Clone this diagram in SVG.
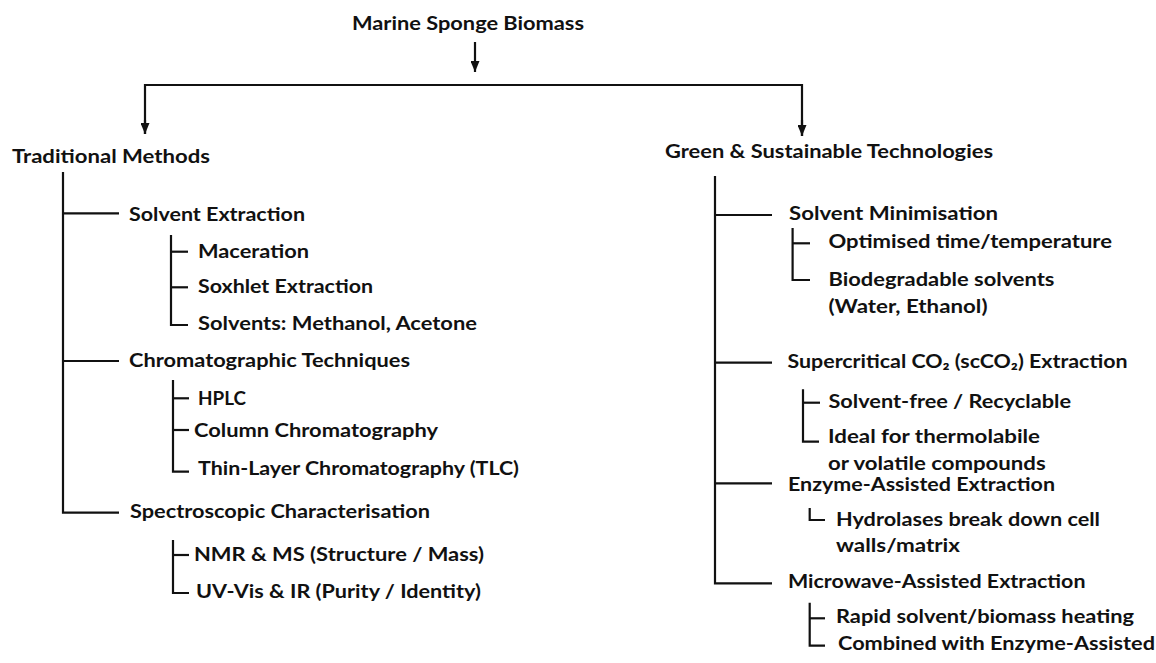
<svg xmlns="http://www.w3.org/2000/svg" width="1156" height="663" viewBox="0 0 1156 663">
<style>
  text { font-family: Lato, "Noto Sans", "Liberation Sans", sans-serif; font-weight: 700; font-size: 18.5px; fill: #111; }
  .ln { fill: none; stroke: #111; stroke-width: 2.2; stroke-linejoin: miter; }
</style>
<defs>
  <marker id="ah" markerUnits="userSpaceOnUse" markerWidth="11" markerHeight="9" refX="11" refY="4.5" orient="auto">
    <path d="M0,0 L11,4.5 L0,9 Z" fill="#111"/>
  </marker>
</defs>
<rect width="1156" height="663" fill="#fff"/>

<g id="connectors">
  <line class="ln" x1="475" y1="42" x2="475" y2="72" marker-end="url(#ah)"/>
  <polyline class="ln" points="145,134 145,85 802,85 802,136"/>
  <line class="ln" x1="145" y1="120" x2="145" y2="134" marker-end="url(#ah)"/>
  <line class="ln" x1="802" y1="120" x2="802" y2="136" marker-end="url(#ah)"/>

  <!-- left tree -->
  <polyline class="ln" points="63,172 63,512.7 119,512.7"/>
  <line class="ln" x1="63" y1="213.3" x2="119" y2="213.3"/>
  <line class="ln" x1="63" y1="361" x2="119" y2="361"/>
  <polyline class="ln" points="171,235 171,325 188,325"/>
  <line class="ln" x1="171" y1="251.7" x2="188" y2="251.7"/>
  <line class="ln" x1="171" y1="287.3" x2="188" y2="287.3"/>
  <polyline class="ln" points="173,380 173,471.7 189,471.7"/>
  <line class="ln" x1="173" y1="398.3" x2="189" y2="398.3"/>
  <line class="ln" x1="173" y1="430" x2="189" y2="430"/>
  <polyline class="ln" points="173,540 173,593 189,593"/>
  <line class="ln" x1="173" y1="555" x2="189" y2="555"/>

  <!-- right tree -->
  <polyline class="ln" points="715,176 715,583.3 772,583.3"/>
  <line class="ln" x1="715" y1="215" x2="772" y2="215"/>
  <line class="ln" x1="715" y1="362.7" x2="772" y2="362.7"/>
  <line class="ln" x1="715" y1="483.3" x2="772" y2="483.3"/>
  <polyline class="ln" points="792.6,228 792.6,280 810,280"/>
  <line class="ln" x1="792.6" y1="243.3" x2="810" y2="243.3"/>
  <polyline class="ln" points="803,389.3 803,441.7 819,441.7"/>
  <line class="ln" x1="803" y1="402.7" x2="820" y2="402.7"/>
  <polyline class="ln" points="809.7,508 809.7,520 825,520"/>
  <polyline class="ln" points="809.7,602.7 809.7,645.7 825,645.7"/>
  <line class="ln" x1="809.7" y1="618.3" x2="825" y2="618.3"/>
</g>

<g id="n-root"><text x="352" y="30" textLength="232" lengthAdjust="spacingAndGlyphs">Marine Sponge Biomass</text></g>
<g id="n-traditional"><text x="12" y="162.5" textLength="198" lengthAdjust="spacingAndGlyphs">Traditional Methods</text></g>
<g id="n-green"><text x="665" y="158" textLength="328" lengthAdjust="spacingAndGlyphs">Green &amp; Sustainable Technologies</text></g>

<g id="n-solvent-extraction"><text x="129" y="220.5" textLength="176" lengthAdjust="spacingAndGlyphs">Solvent Extraction</text></g>
<g id="n-maceration"><text x="198" y="258" textLength="111" lengthAdjust="spacingAndGlyphs">Maceration</text></g>
<g id="n-soxhlet"><text x="198" y="293" textLength="175" lengthAdjust="spacingAndGlyphs">Soxhlet Extraction</text></g>
<g id="n-solvents"><text x="198" y="330" textLength="279" lengthAdjust="spacingAndGlyphs">Solvents: Methanol, Acetone</text></g>
<g id="n-chromatographic"><text x="129" y="366.5" textLength="281" lengthAdjust="spacingAndGlyphs">Chromatographic Techniques</text></g>
<g id="n-hplc"><text x="198" y="405" textLength="48" lengthAdjust="spacingAndGlyphs">HPLC</text></g>
<g id="n-column"><text x="194" y="437" textLength="244" lengthAdjust="spacingAndGlyphs">Column Chromatography</text></g>
<g id="n-tlc"><text x="198" y="475" textLength="321" lengthAdjust="spacingAndGlyphs">Thin-Layer Chromatography (TLC)</text></g>
<g id="n-spectroscopic"><text x="130" y="517.5" textLength="300" lengthAdjust="spacingAndGlyphs">Spectroscopic Characterisation</text></g>
<g id="n-nmr"><text x="194" y="561" textLength="290" lengthAdjust="spacingAndGlyphs">NMR &amp; MS (Structure / Mass)</text></g>
<g id="n-uv"><text x="196" y="598" textLength="285" lengthAdjust="spacingAndGlyphs">UV-Vis &amp; IR (Purity / Identity)</text></g>

<g id="n-solvent-min"><text x="789" y="220" textLength="209" lengthAdjust="spacingAndGlyphs">Solvent Minimisation</text></g>
<g id="n-optimised"><text x="828.5" y="248.3" textLength="283.5" lengthAdjust="spacingAndGlyphs">Optimised time/temperature</text></g>
<g id="n-biodegradable">
  <text x="828.5" y="286" textLength="226" lengthAdjust="spacingAndGlyphs">Biodegradable solvents</text>
  <text x="828.5" y="313.3" textLength="159" lengthAdjust="spacingAndGlyphs">(Water, Ethanol)</text>
</g>
<g id="n-supercritical"><text x="787.5" y="368.3" textLength="340" lengthAdjust="spacingAndGlyphs">Supercritical CO₂ (scCO₂) Extraction</text></g>
<g id="n-solvent-free"><text x="828.5" y="407.7" textLength="242.5" lengthAdjust="spacingAndGlyphs">Solvent-free / Recyclable</text></g>
<g id="n-ideal">
  <text x="828" y="443" textLength="212" lengthAdjust="spacingAndGlyphs">Ideal for thermolabile</text>
  <text x="828" y="470" textLength="217.7" lengthAdjust="spacingAndGlyphs">or volatile compounds</text>
</g>
<g id="n-enzyme"><text x="788" y="490.7" textLength="267" lengthAdjust="spacingAndGlyphs">Enzyme-Assisted Extraction</text></g>
<g id="n-hydrolases">
  <text x="836" y="526" textLength="264" lengthAdjust="spacingAndGlyphs">Hydrolases break down cell</text>
  <text x="836" y="551.7" textLength="124" lengthAdjust="spacingAndGlyphs">walls/matrix</text>
</g>
<g id="n-microwave"><text x="788" y="588.3" textLength="297.5" lengthAdjust="spacingAndGlyphs">Microwave-Assisted Extraction</text></g>
<g id="n-rapid"><text x="836" y="623.3" textLength="298" lengthAdjust="spacingAndGlyphs">Rapid solvent/biomass heating</text></g>
<g id="n-combined"><text x="838" y="650" textLength="317" lengthAdjust="spacingAndGlyphs">Combined with Enzyme-Assisted</text></g>
</svg>
